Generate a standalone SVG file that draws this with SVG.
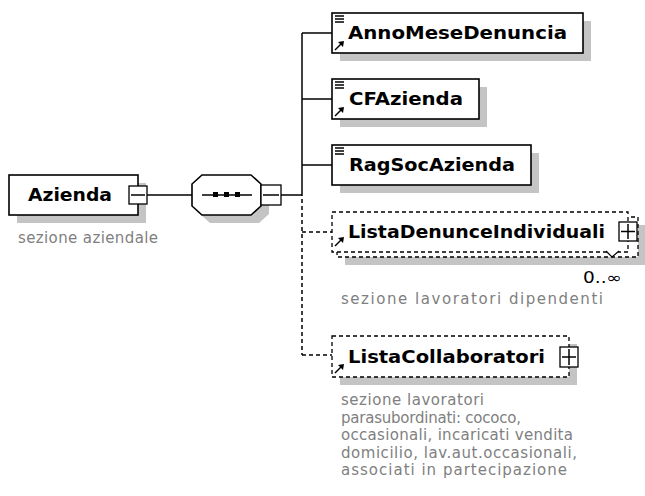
<svg xmlns="http://www.w3.org/2000/svg" width="645" height="496" viewBox="0 0 645 496">
<style>
.bg{fill:#ffffff}
.shadow{fill:#c4c4c4;stroke:none}
.box{fill:#ffffff;stroke:#000;stroke-width:1.6}
.dbox{fill:#ffffff;stroke:#000;stroke-width:1.3;stroke-dasharray:4,3}
.line{fill:none;stroke:#000;stroke-width:1.5}
.dline{fill:none;stroke:#000;stroke-width:1.5;stroke-dasharray:4,3}
.sign{fill:#fff;stroke:#000;stroke-width:1.3}
.name{font-family:"DejaVu Sans","Liberation Sans",sans-serif;font-weight:bold;font-size:18px;fill:#000}
.doc{font-family:"DejaVu Sans","Liberation Sans",sans-serif;font-size:15px;fill:#808080}
.card{font-family:"DejaVu Sans","Liberation Sans",sans-serif;font-size:15px;fill:#000}
.icon{stroke:#000;stroke-width:1.5;fill:none}
</style>
<defs>
<g id="arrowIcon">
<line x1="0" y1="8" x2="6" y2="2" class="icon"/>
<polygon points="9,-1 3,0 8,5" fill="#000"/>
</g>
<g id="linesIcon">
<line x1="0" y1="0" x2="9" y2="0" class="icon"/>
<line x1="0" y1="3" x2="9" y2="3" class="icon"/>
<line x1="0" y1="6" x2="9" y2="6" class="icon"/>
</g>
</defs>
<rect class="bg" x="0" y="0" width="645" height="496"/>

<g id="connectors">
<line class="line" x1="147" y1="195" x2="192" y2="195"/>
<line class="line" x1="281" y1="195" x2="302" y2="195"/>
<line class="line" x1="302" y1="33" x2="302" y2="196"/>
<line class="dline" x1="302" y1="199" x2="302" y2="355"/>
<line class="line" x1="302" y1="33" x2="332" y2="33"/>
<line class="line" x1="302" y1="99" x2="332" y2="99"/>
<line class="line" x1="302" y1="165" x2="332" y2="165"/>
<line class="dline" x1="302" y1="232" x2="332" y2="232"/>
<line class="dline" x1="302" y1="355" x2="332" y2="355"/>
</g>

<g id="Azienda">
<rect class="shadow" x="17" y="183" width="129" height="40"/>
<rect class="box" x="9" y="175" width="129" height="40"/>
<text class="name" x="28" y="201" textLength="84" lengthAdjust="spacingAndGlyphs">Azienda</text>
<rect class="sign" x="129" y="186" width="18" height="18"/>
<line class="icon" x1="131" y1="195" x2="145" y2="195"/>
<text class="doc" x="18" y="243" textLength="140" lengthAdjust="spacing">sezione aziendale</text>
</g>

<g id="sequence">
<polygon class="shadow" points="210,183 259,183 269,192 269,214 259,223 210,223 200,214 200,192"/>
<polygon class="box" points="202,175 251,175 261,184 261,206 251,215 202,215 192,206 192,184"/>
<line class="icon" x1="202" y1="195" x2="252" y2="195"/>
<rect x="213" y="192" width="5" height="5" fill="#000"/>
<rect x="224" y="192" width="5" height="5" fill="#000"/>
<rect x="235" y="192" width="5" height="5" fill="#000"/>
<rect class="sign" x="261" y="185" width="20" height="20"/>
<line class="icon" x1="263" y1="195" x2="279" y2="195"/>
</g>

<g id="AnnoMeseDenuncia">
<rect class="shadow" x="340" y="21" width="251" height="40"/>
<rect class="box" x="332" y="13" width="251" height="40"/>
<use href="#linesIcon" x="335" y="16"/>
<use href="#arrowIcon" x="335" y="42"/>
<text class="name" x="348" y="39" textLength="219" lengthAdjust="spacingAndGlyphs">AnnoMeseDenuncia</text>
</g>

<g id="CFAzienda">
<rect class="shadow" x="340" y="87" width="147" height="40"/>
<rect class="box" x="332" y="79" width="147" height="40"/>
<use href="#linesIcon" x="335" y="82"/>
<use href="#arrowIcon" x="335" y="108"/>
<text class="name" x="349" y="105" textLength="114" lengthAdjust="spacingAndGlyphs">CFAzienda</text>
</g>

<g id="RagSocAzienda">
<rect class="shadow" x="340" y="153" width="199" height="40"/>
<rect class="box" x="332" y="145" width="199" height="40"/>
<use href="#linesIcon" x="335" y="148"/>
<text class="name" x="349" y="171" textLength="166" lengthAdjust="spacingAndGlyphs">RagSocAzienda</text>
</g>

<g id="ListaDenunceIndividuali">
<rect class="shadow" x="345" y="225" width="301" height="40"/>
<rect class="dbox" x="337" y="217" width="301" height="40"/>
<rect class="dbox" x="332" y="212" width="296" height="40"/>
<use href="#arrowIcon" x="335" y="238"/>
<text class="name" x="348" y="238" textLength="257" lengthAdjust="spacingAndGlyphs">ListaDenunceIndividuali</text>
<rect class="sign" x="619" y="222" width="18" height="19"/>
<line class="icon" x1="621" y1="231.5" x2="635" y2="231.5"/>
<line class="icon" x1="628" y1="224" x2="628" y2="239"/>
<polyline points="606,251 612,257 619,251" fill="#fff" stroke="#000" stroke-width="1.2"/>
<text class="card" x="583" y="283" textLength="39" lengthAdjust="spacingAndGlyphs">0..∞</text>
<text class="doc" x="341" y="304" textLength="262" lengthAdjust="spacing">sezione lavoratori dipendenti</text>
</g>

<g id="ListaCollaboratori">
<rect class="shadow" x="340" y="344" width="237" height="41"/>
<rect class="dbox" x="332" y="336" width="237" height="41"/>
<use href="#arrowIcon" x="335" y="365"/>
<text class="name" x="348" y="363" textLength="197" lengthAdjust="spacingAndGlyphs">ListaCollaboratori</text>
<rect class="sign" x="560" y="347" width="18" height="20"/>
<line class="icon" x1="562" y1="357" x2="576" y2="357"/>
<line class="icon" x1="569" y1="349" x2="569" y2="365"/>
<text class="doc" x="341" y="405" textLength="143" lengthAdjust="spacing">sezione lavoratori</text>
<text class="doc" x="341" y="422.5" textLength="180" lengthAdjust="spacing">parasubordinati: cococo,</text>
<text class="doc" x="341" y="440" textLength="232" lengthAdjust="spacing">occasionali, incaricati vendita</text>
<text class="doc" x="341" y="457.5" textLength="236" lengthAdjust="spacing">domicilio, lav.aut.occasionali,</text>
<text class="doc" x="341" y="475" textLength="226" lengthAdjust="spacing">associati in partecipazione</text>
</g>
</svg>
